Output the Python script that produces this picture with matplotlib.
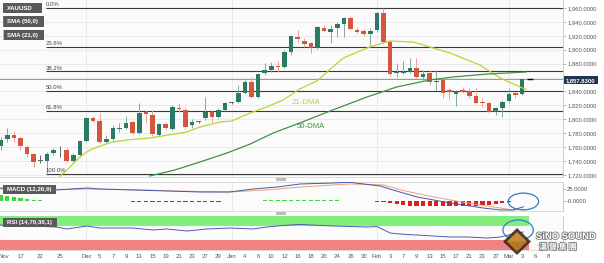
import numpy as np
import matplotlib.pyplot as plt
from matplotlib.patches import Rectangle, Ellipse, Polygon
import matplotlib.patheffects as pe

plt.rcParams['font.family'] = ['Liberation Sans', 'DejaVu Sans']

W, H = 604, 263

# ---- data (bar 0 = Nov 17, one bar per weekday) ----
bar_idx = list(range(-3, 77))
opens = [1761.7, 1771.7, 1777.5, 1773.2, 1760.2, 1750.2, 1740.1, 1740.1, 1751.6, 1757.0,
         1755.9, 1740.1, 1748.7, 1768.9, 1801.9, 1797.6, 1767.4, 1771.7, 1786.1, 1787.5,
         1796.2, 1780.4, 1810.5, 1806.2, 1777.0, 1793.0, 1786.1, 1816.3, 1813.4, 1791.8,
         1796.2, 1801.9, 1810.5, 1803.4, 1813.4, 1823.5, 1824.9, 1837.8, 1853.7, 1832.1,
         1866.6, 1870.9, 1876.6, 1875.2, 1896.8, 1918.3, 1912.6, 1909.7, 1902.5, 1931.3,
         1925.5, 1931.3, 1937.0, 1945.6, 1928.4, 1926.9, 1922.6, 1928.4, 1952.8, 1911.1,
         1866.6, 1866.6, 1868.0, 1873.8, 1860.8, 1866.6, 1853.7, 1856.5, 1842.2, 1836.4,
         1842.2, 1840.7, 1833.5, 1824.9, 1823.5, 1810.5, 1816.3, 1826.3, 1837.8, 1836.4]
highs = [1774.6, 1787.5, 1783.2, 1774.6, 1763.1, 1751.6, 1748.7, 1753.1, 1758.8, 1761.7,
         1758.8, 1751.6, 1770.3, 1803.4, 1804.8, 1809.1, 1777.5, 1791.8, 1794.7, 1804.8,
         1797.6, 1823.5, 1813.4, 1813.4, 1794.7, 1796.0, 1820.6, 1823.5, 1817.7, 1800.5,
         1797.6, 1832.1, 1813.4, 1816.3, 1824.9, 1825.0, 1849.3, 1856.5, 1860.8, 1866.6,
         1881.0, 1882.4, 1883.8, 1899.6, 1921.2, 1928.4, 1916.9, 1911.1, 1934.1, 1935.6,
         1935.6, 1939.9, 1947.1, 1948.5, 1932.7, 1929.8, 1931.3, 1954.3, 1959.7, 1914.0,
         1881.0, 1883.8, 1888.1, 1888.1, 1870.9, 1870.9, 1870.9, 1859.4, 1845.0, 1842.2,
         1846.4, 1845.0, 1845.0, 1830.7, 1824.9, 1817.7, 1827.8, 1845.0, 1839.3, 1858.5]
lows = [1755.9, 1767.4, 1767.4, 1755.9, 1745.9, 1731.5, 1737.3, 1721.6, 1748.7, 1746.0,
        1739.0, 1738.7, 1746.0, 1767.4, 1796.2, 1766.0, 1766.0, 1770.3, 1782.0, 1786.0,
        1779.0, 1779.0, 1794.7, 1776.0, 1776.0, 1784.0, 1784.7, 1810.5, 1786.1, 1787.5,
        1794.7, 1799.0, 1796.2, 1801.9, 1812.0, 1822.5, 1823.5, 1836.4, 1830.7, 1831.0,
        1863.7, 1868.0, 1868.0, 1873.8, 1892.5, 1911.1, 1904.0, 1895.3, 1901.0, 1925.5,
        1909.7, 1918.3, 1918.3, 1928.4, 1924.0, 1919.8, 1904.0, 1925.5, 1909.7, 1862.3,
        1860.8, 1865.0, 1866.6, 1859.4, 1856.5, 1849.3, 1842.2, 1830.7, 1827.8, 1819.2,
        1837.8, 1830.7, 1822.0, 1817.7, 1809.1, 1806.2, 1803.4, 1823.5, 1830.7, 1835.0]
closes = [1770.3, 1777.5, 1773.2, 1761.7, 1750.2, 1738.7, 1741.0, 1750.2, 1755.9, 1757.6,
          1740.1, 1748.7, 1768.9, 1801.9, 1797.6, 1767.4, 1771.7, 1787.5, 1787.5, 1794.7,
          1780.4, 1809.1, 1807.7, 1779.0, 1793.0, 1788.0, 1817.7, 1814.9, 1789.0, 1796.2,
          1796.8, 1810.5, 1803.4, 1813.4, 1823.5, 1824.0, 1837.8, 1853.7, 1832.1, 1865.1,
          1870.9, 1876.6, 1875.2, 1896.8, 1919.8, 1915.5, 1908.3, 1902.5, 1932.7, 1926.9,
          1929.8, 1937.0, 1945.6, 1929.8, 1925.5, 1922.6, 1926.9, 1952.8, 1911.1, 1865.1,
          1868.0, 1868.3, 1873.8, 1860.8, 1865.1, 1853.7, 1855.5, 1837.8, 1839.3, 1840.7,
          1839.3, 1833.5, 1823.5, 1823.5, 1810.5, 1816.3, 1824.9, 1836.4, 1835.0, 1857.83]

sma21_x = [5.5, 7.0, 9.0, 10.5, 12.5, 14.0, 16.1, 19.6, 25.2, 27.2, 30.2, 32.0, 34.8, 37.3,
           39.8, 42.3, 44.9, 48.9, 52.9, 56.0, 59.5, 62.0, 65.1, 69.6, 72.7, 75.7, 76.6]
sma21_y = [1714.0, 1727.2, 1745.9, 1755.9, 1763.1, 1767.4, 1770.3, 1773.2, 1781.8, 1789.0,
           1796.2, 1797.6, 1809.1, 1817.7, 1827.8, 1843.6, 1855.1, 1888.1, 1904.0, 1912.6,
           1911.1, 1904.0, 1895.3, 1878.1, 1859.4, 1846.5, 1843.0]
sma50_x = [19.6, 23.4, 27.2, 31.3, 34.8, 38.3, 42.3, 47.3, 52.5, 57.0, 62.0, 65.5, 70.7, 76.6]
sma50_y = [1718.6, 1727.2, 1738.7, 1751.6, 1764.5, 1780.4, 1794.7, 1813.4, 1832.1, 1846.5,
           1856.5, 1860.8, 1865.1, 1868.0]

fib_ratios = [0.0, 0.236, 0.382, 0.5, 0.618, 1.0]
fib_labels = ['0.0%', '23.6%', '38.2%', '50.0%', '61.8%', '100.0%']
last_price = 1857.83

macd_x = [-3.1, 5.5, 10.1, 12.0, 17.0, 22.2, 27.2, 31.7, 35.2, 38.9, 42.4, 47.4, 49.9,
          54.5, 56.4, 60.1, 65.1, 70.1, 72.7, 74.6, 76.2]
macd_y = [28.1, 24.0, 28.1, 26.0, 24.0, 21.9, 19.8, 19.8, 26.0, 30.2, 36.5, 38.5, 40.0,
          32.3, 24.0, 9.4, -3.1, -13.5, -17.7, -17.7, -11.0]
signal_x = [-3.1, 5.5, 10.1, 17.0, 22.2, 27.2, 31.7, 37.3, 42.4, 49.9, 55.0, 57.6, 62.6,
            67.7, 72.7, 74.6, 76.2]
signal_y = [26.0, 25.0, 26.0, 24.5, 22.5, 20.5, 19.8, 24.0, 30.2, 36.5, 34.4, 24.0, 9.4,
            -3.1, -13.5, -17.7, -16.0]
hist = [12.5, 12.0, 10.0, 8.0, 6.0, 4.0, 2.5, 2.0, 1.5, 1.2, 1.2, 1.2, 1.2, 1.2, 1.2, 1.2,
        1.2, 0.6, 0.6, 0.6, -1.0, -1.0, -1.0, -1.0, -1.0, -1.0, -1.0, -1.0, -1.0, -1.0,
        -1.0, -1.0, -1.0, -1.0, 1.0, 1.0, 1.0, 2.0, 2.0, 2.0, 3.0, 3.0, 3.0, 3.0, 3.0, 3.0,
        3.0, 3.0, 3.0, 3.0, 3.0, 3.0, 1.5, 1.5, 1.5, 1.5, 0.5, -1.0, -2.0, -4.0, -6.0, -8.0,
        -9.0, -10.0, -10.0, -10.0, -10.0, -10.0, -10.0, -10.0, -10.0, -9.0, -9.0, -8.0,
        -7.0, -5.0, -3.0, -1.5, 1.0, 1.5]

rsi_x = [-3.1, 5.5, 7.0, 10.1, 12.0, 14.6, 17.0, 20.1, 22.2, 25.2, 28.3, 31.7, 35.2, 37.3,
         38.9, 40.8, 42.4, 47.4, 52.5, 54.0, 56.0, 57.5, 62.5, 65.1, 67.7, 70.7, 72.7,
         74.6, 76.2]
rsi_y = [73.5, 67.6, 61.8, 70.6, 64.7, 64.7, 64.7, 58.8, 61.8, 55.9, 61.8, 64.7, 61.8, 67.6,
         70.6, 73.5, 75.0, 70.6, 67.6, 69.0, 50.0, 47.0, 41.2, 38.2, 38.2, 35.3, 38.2,
         47.0, 53.0]

tick_pos = [-2.5, 0, 3, 6, 10, 12, 14, 16, 18, 20, 22, 24, 26, 28, 30, 32, 34, 36, 38, 40,
            42, 44, 46, 48, 50, 52, 54, 56, 58, 60, 62, 64, 66, 68, 70, 72, 74, 76, 78, 80]
tick_lab = ['Nov', '17', '22', '25', 'Dec', '5', '7', '9', '13', '15', '19', '21', '23',
            '27', '29', 'Jan', '4', '6', '10', '12', '16', '18', '20', '24', '26', '30',
            'Feb', '3', '7', '9', '13', '15', '17', '21', '23', '27', 'Mar', '3', '6', '8']
month_starts = [10, 32, 54, 74]

# ---- colours ----
UP, DOWN, DOJI = '#2a7b66', '#d6553f', '#666666'
UP_W, DOWN_W = '#86a89e', '#e8a398'
SMA21_C, SMA50_C = '#b9d531', '#3f9342'
GRID = '#e7e7e7'
XLIM = (-3.106, 82.2)

fig = plt.figure(figsize=(W / 100, H / 100), dpi=100)


def px_axes(x0, y0, x1, y1):
    return fig.add_axes([x0 / W, 1 - y1 / H, (x1 - x0) / W, (y1 - y0) / H])


def style(ax):
    ax.set_facecolor('#fbfbfb')
    ax.set_xlim(*XLIM)
    for s in ['left', 'top']:
        ax.spines[s].set_visible(False)
    ax.spines['bottom'].set_color('#d4d4d4')
    ax.spines['right'].set_color('#c4c4c4')
    for s in ['bottom', 'right']:
        ax.spines[s].set_linewidth(0.6)
    ax.yaxis.tick_right()
    ax.tick_params(axis='y', length=2, width=0.5, color='#999999', labelsize=4.2,
                   labelcolor='#555555', pad=1)
    ax.tick_params(axis='x', length=0)
    for m in month_starts:
        ax.axvline(m, color=GRID, lw=0.6, zorder=0)


# ---- main price panel ----
ax = px_axes(0, 0, 563, 177)
style(ax)
ax.set_ylim(1717.1, 1971.5)
yt = list(range(1720, 1961, 20))
ax.set_yticks(yt)
# the 1,860 label sits under the live price tag
ax.set_yticklabels(['' if v == 1860 else f'{v:,.4f}' for v in yt])
ax.set_xticks([])
for v in yt:
    ax.axhline(v, color=GRID, lw=0.6, zorder=0)

x = np.array(bar_idx, dtype=float)
o, h, l, c = map(np.array, (opens, highs, lows, closes))
body_col = np.where(np.abs(c - o) < 1.0, DOJI, np.where(c >= o, UP, DOWN))
wick_col = np.where(np.abs(c - o) < 1.0, DOJI, np.where(c >= o, UP_W, DOWN_W))
ax.vlines(x, l, h, colors=wick_col, lw=0.7, zorder=3)
ax.bar(x, np.maximum(np.abs(c - o), 0.8), bottom=np.minimum(o, c), width=0.7,
       color=body_col, linewidth=0, zorder=4)

ax.plot(sma21_x, sma21_y, color=SMA21_C, lw=0.9, zorder=5)
ax.plot(sma50_x, sma50_y, color=SMA50_C, lw=0.9, zorder=5)
ax.text(41.1, 1824.5, '21-DMA', color=SMA21_C, fontsize=5.6, va='center', zorder=6)
ax.text(41.9, 1789.5, '50-DMA', color=SMA50_C, fontsize=5.6, va='center', zorder=6)

# fibonacci retracement from the November low to the February high
fib_hi, fib_lo = max(highs), min(lows)
fib_start = bar_idx[lows.index(fib_lo)] - 0.15
for r, lab in zip(fib_ratios, fib_labels):
    lvl = fib_hi - r * (fib_hi - fib_lo)
    ax.hlines(lvl, fib_start, XLIM[1], color='#3a3a3a', lw=0.8, zorder=2)
    ax.annotate(lab, (fib_start, lvl), xytext=(0, 0.6), textcoords='offset points',
                fontsize=4.3, color='#444444', va='bottom', ha='left', zorder=6)

ax.axhline(last_price, color='#8d9ba7', lw=0.7, zorder=2)
ax.hlines(last_price, 76.8, 77.6, color='black', lw=1.0, zorder=6)

# ---- MACD panel ----
axm = px_axes(0, 182, 563, 211)
style(axm)
axm.spines['top'].set_visible(True)
axm.spines['top'].set_color('#d4d4d4')
axm.spines['top'].set_linewidth(0.6)
axm.set_ylim(-19.8, 40.6)
axm.set_xticks([])
axm.set_yticks([0, 25])
axm.set_yticklabels(['-0.0000', '25.0000'])
hist_col = ['#3ed83e' if v > 0 else '#e01c1c' for v in hist]
axm.bar(bar_idx, hist, width=0.62, color=hist_col, linewidth=0, zorder=2)
axm.plot(signal_x, signal_y, color='#eaa27a', lw=0.7, zorder=3)
axm.plot(macd_x, macd_y, color='#4656a8', lw=0.7, zorder=4)
axm.add_patch(Ellipse((76.2, 0.0), 4.6, 35.0, fill=False, ec='#2f7ec4', lw=0.9,
                      zorder=8, clip_on=False))

# ---- RSI panel ----
axr = px_axes(0, 216, 563, 250)
style(axr)
axr.set_ylim(0, 100)
axr.set_yticks([])
axr.fill_between([XLIM[0], 77.1], 70, 100, color='#82ee7e', lw=0, zorder=1)
axr.fill_between([XLIM[0], 77.1], 0, 30, color='#f08282', lw=0, zorder=1)
axr.plot(rsi_x, rsi_y, color='#4b5ab2', lw=0.7, zorder=3)
axr.add_patch(Ellipse((75.4, 58.8), 4.6, 58.8, fill=False, ec='#2f7ec4', lw=0.9,
                      zorder=8, clip_on=False))
axr.set_xticks(tick_pos)
axr.set_xticklabels(tick_lab)
axr.tick_params(axis='x', labelsize=4.3, labelcolor='#555555', pad=3)

# ---- overlay: label boxes, handles, watermark (pixel coordinates) ----
ov = fig.add_axes([0, 0, 1, 1], zorder=10)
ov.set_xlim(0, W)
ov.set_ylim(H, 0)
ov.axis('off')

boxes = [('XAUUSD', 3, 3, 42, 13, None),
         ('SMA (50,0)', 3, 16, 44, 27, SMA50_C),
         ('SMA (21,0)', 3, 30, 44, 40, SMA21_C),
         ('MACD (12,26,9)', 3, 185, 56, 194, '#4656a8'),
         ('RSI (14,70,30,1)', 3, 218, 57, 227, None)]
for txt, x0, y0, x1, y1, stripe in boxes:
    ov.add_patch(Rectangle((x0, y0), x1 - x0, y1 - y0, color='#5a5a5a', lw=0))
    if stripe:
        ov.add_patch(Rectangle((x0, y0), 1.3, y1 - y0, color=stripe, lw=0))
    ov.text(x0 + 4, (y0 + y1) / 2 + 0.3, txt, color='white', fontsize=4.4,
            fontweight='bold', va='center', ha='left')

# current price tag on the axis
ov.add_patch(Rectangle((564, 76), 34, 8, color='#1e3652', lw=0))
ov.text(566, 80.2, f'{last_price:,.4f}', color='white', fontsize=4.2,
        fontweight='bold', va='center', ha='left')

# pane splitter handles
for yy in (178, 212):
    ov.add_patch(Rectangle((276, yy), 10, 2.5, color='#bdbdbd', lw=0))

# watermark
ov.add_patch(Polygon([(517, 228), (531, 241.5), (517, 255), (503, 241.5)],
                     closed=True, color='#3b2c18', lw=0, alpha=0.9))
ov.add_patch(Polygon([(517, 232), (527, 241.5), (517, 251), (507, 241.5)],
                     closed=True, color='#d39038', lw=0, alpha=0.95))
ov.add_patch(Polygon([(507, 241.5), (527, 241.5), (517, 251)],
                     closed=True, color='#b8742a', lw=0, alpha=0.95))
stroke = [pe.withStroke(linewidth=1.2, foreground='#7a7a7a')]
ov.text(536, 236.5, 'SiNO SOUND', color='white', fontsize=6.8, fontweight='bold',
        family=['Liberation Sans Narrow', 'Liberation Sans', 'DejaVu Sans'],
        va='center', ha='left', path_effects=stroke)
ov.text(539, 247, '漢 聲 集 團', color='white', fontsize=5.8, fontweight='bold',
        family=['Noto Sans CJK TC', 'DejaVu Sans'], va='center', ha='left',
        path_effects=stroke)

fig.savefig('out.png', dpi=100)
